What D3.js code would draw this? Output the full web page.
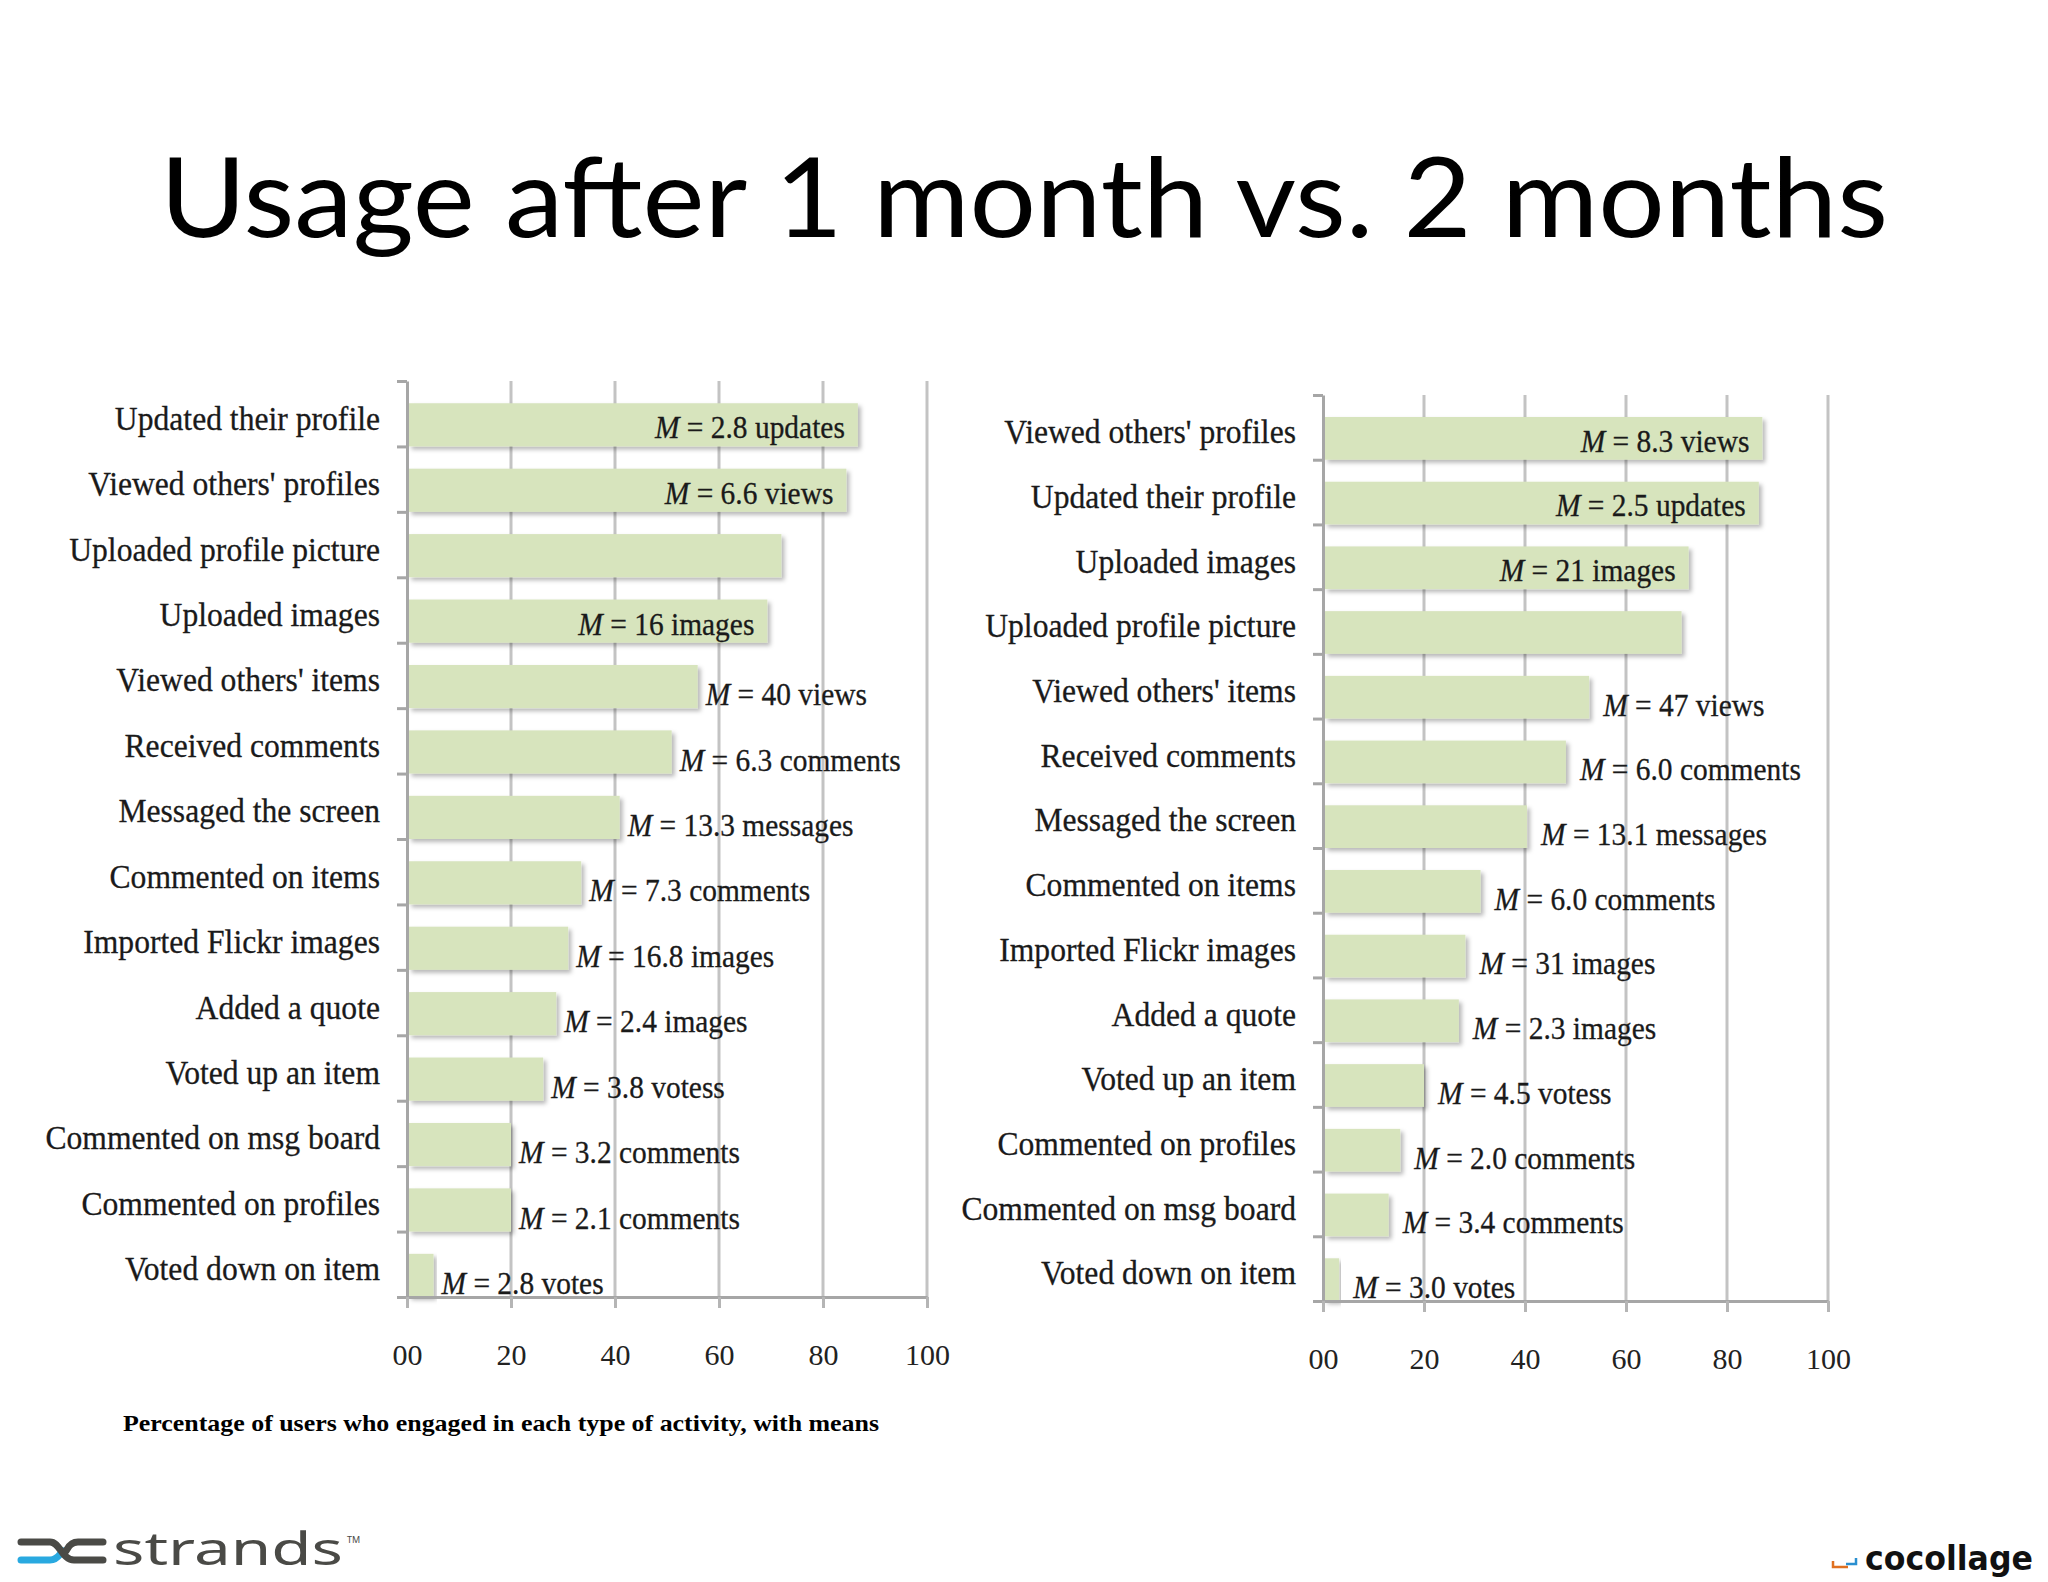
<!DOCTYPE html>
<html><head><meta charset="utf-8">
<script src="https://cdn.jsdelivr.net/npm/d3@7/dist/d3.min.js"></script>
<style>body{margin:0;background:#fff;} svg{display:block}</style>
</head><body>
<svg id="c" width="2048" height="1582"></svg>
<script>
// ---------- data ----------
const title = "Usage after 1 month vs. 2 months";
const caption = "Percentage of users who engaged in each type of activity, with means";
const tickValues = [0, 20, 40, 60, 80, 100];
const tickLabels = ["00", "20", "40", "60", "80", "100"];

const month1Categories = ["Updated their profile", "Viewed others' profiles", "Uploaded profile picture",
  "Uploaded images", "Viewed others' items", "Received comments", "Messaged the screen",
  "Commented on items", "Imported Flickr images", "Added a quote", "Voted up an item",
  "Commented on msg board", "Commented on profiles", "Voted down on item"];
const month1Values = [86.7, 84.5, 72, 69.3, 55.9, 50.9, 40.9, 33.5, 31, 28.7, 26.2, 20, 20, 5.1];
const month1Means = ["2.8 updates", "6.6 views", "", "16 images", "40 views", "6.3 comments",
  "13.3 messages", "7.3 comments", "16.8 images", "2.4 images", "3.8 votess", "3.2 comments",
  "2.1 comments", "2.8 votes"];

const month2Categories = ["Viewed others' profiles", "Updated their profile", "Uploaded images",
  "Uploaded profile picture", "Viewed others' items", "Received comments", "Messaged the screen",
  "Commented on items", "Imported Flickr images", "Added a quote", "Voted up an item",
  "Commented on profiles", "Commented on msg board", "Voted down on item"];
const month2Values = [87, 86.3, 72.4, 71, 52.7, 48.1, 40.4, 31.2, 28.2, 26.9, 20, 15.3, 13, 3.2];
const month2Means = ["8.3 views", "2.5 updates", "21 images", "", "47 views", "6.0 comments",
  "13.1 messages", "6.0 comments", "31 images", "2.3 images", "4.5 votess", "2.0 comments",
  "3.4 comments", "3.0 votes"];

// ---------- drawing ----------
const svg = d3.select("#c");
const defs = svg.append("defs");
const f = defs.append("filter").attr("id", "shadow").attr("x", "-5%").attr("y", "-20%")
  .attr("width", "115%").attr("height", "160%");
f.append("feDropShadow").attr("dx", 3).attr("dy", 3).attr("stdDeviation", 2)
  .attr("flood-color", "#000").attr("flood-opacity", 0.28);

const SERIF = "'Liberation Serif','Times New Roman',serif";

function condensedText(parent, x, y, k, anchor) {
  return parent.append("text")
    .attr("transform", `translate(${x},${y}) scale(${k},1)`)
    .attr("text-anchor", anchor);
}

function panel(cfg, cats, vals, means) {
  const x = d3.scaleLinear().domain([0, 100]).range([cfg.x0, cfg.x1]);
  const y = d3.scaleBand().domain(cats).range([cfg.y0, cfg.y1]).padding(0);
  const bw = y.bandwidth();
  const g = svg.append("g");

  // vertical gridlines
  g.append("g").selectAll("line").data(tickValues.slice(1)).join("line")
    .attr("x1", d => x(d)).attr("x2", d => x(d))
    .attr("y1", cfg.y0).attr("y2", cfg.y1)
    .attr("stroke", "#c3c3c3").attr("stroke-width", 3);

  // bars
  const rows = cats.map((c, i) => ({ c, v: vals[i], m: means[i] }));
  g.append("g").selectAll("rect").data(rows).join("rect")
    .attr("x", x(0) + 1.5)
    .attr("y", d => y(d.c) + bw * 0.34)
    .attr("width", d => x(d.v) - x(0) - 1.5)
    .attr("height", bw * 0.66)
    .attr("fill", "#d7e4bd")
    .attr("filter", "url(#shadow)");

  // left axis (ticks at band boundaries)
  const yb = d3.scaleLinear().domain([0, cats.length]).range([cfg.y0, cfg.y1]);
  const la = g.append("g").attr("transform", `translate(${x(0)},0)`)
    .call(d3.axisLeft(yb).tickValues(d3.range(cats.length + 1))
      .tickFormat("").tickSizeInner(10).tickSizeOuter(0));
  la.select(".domain").attr("stroke", "#a6a6a6").attr("stroke-width", 3);
  la.selectAll(".tick line").attr("stroke", "#a6a6a6").attr("stroke-width", 3);

  // bottom axis
  const ba = g.append("g").attr("transform", `translate(0,${cfg.y1})`)
    .call(d3.axisBottom(x).tickValues(tickValues)
      .tickFormat((d, i) => tickLabels[i]).tickSizeInner(11).tickSizeOuter(0).tickPadding(36));
  ba.select(".domain").attr("stroke", "#a6a6a6").attr("stroke-width", 3);
  ba.selectAll(".tick line").attr("stroke", "#b5b5b5").attr("stroke-width", 3);
  ba.selectAll(".tick text").attr("font-family", SERIF).attr("font-size", 30).attr("fill", "#222");

  // category labels
  rows.forEach(d => {
    condensedText(g, cfg.labelRight, y(d.c) + bw * 0.745, 0.93, "end")
      .attr("font-family", SERIF).attr("font-size", 34).attr("fill", "#1a1a1a")
      .attr("stroke", "#1a1a1a").attr("stroke-width", 0.3)
      .text(d.c);
  });

  // mean labels
  rows.forEach(d => {
    if (!d.m) return;
    const inside = d.v >= 60;
    const t = inside
      ? condensedText(g, x(d.v) - 13, y(d.c) + bw - 8, 0.92, "end")
      : condensedText(g, x(d.v) + cfg.gap, y(d.c) + bw - 3, 0.92, "start");
    t.attr("font-family", SERIF).attr("font-size", 32).attr("fill", "#1a1a1a")
      .attr("stroke", "#1a1a1a").attr("stroke-width", 0.3);
    t.append("tspan").attr("font-style", "italic").text("M");
    t.append("tspan").text(" = " + d.m);
  });
}

panel({ x0: 407, x1: 927, y0: 381, y1: 1297, labelRight: 380, gap: 8 },
  month1Categories, month1Values, month1Means);
panel({ x0: 1323, x1: 1828, y0: 395, y1: 1301, labelRight: 1296, gap: 14 },
  month2Categories, month2Values, month2Means);

// title
svg.append("text").attr("x", 160).attr("y", 237)
  .attr("font-family", "Lato, 'Open Sans', sans-serif").attr("font-size", 110)
  .attr("textLength", 1728).attr("lengthAdjust", "spacingAndGlyphs")
  .attr("fill", "#000").text(title);

// caption
svg.append("text").attr("x", 123).attr("y", 1431)
  .attr("font-family", SERIF).attr("font-weight", "bold").attr("font-size", 24)
  .attr("textLength", 756).attr("lengthAdjust", "spacingAndGlyphs")
  .attr("fill", "#000").text(caption);

// strands logo
const logo = svg.append("g").attr("fill", "none").attr("stroke-width", 7).attr("stroke-linecap", "round");
logo.append("path").attr("d", "M21,1560 H50 C58,1560 60,1553 63,1551").attr("stroke", "#29a9e0");
logo.append("path").attr("d", "M21,1542 H50 C60,1542 62,1560 74,1560 H103").attr("stroke", "#4a4a46");
logo.append("path").attr("d", "M103,1542 H78 C70,1542 68,1548 66,1551").attr("stroke", "#4a4a46");
svg.append("text").attr("x", 113).attr("y", 1565)
  .attr("font-family", "'Noto Sans', sans-serif").attr("font-weight", 400).attr("font-size", 46)
  .attr("textLength", 230).attr("lengthAdjust", "spacingAndGlyphs")
  .attr("fill", "#4a4a46").text("strands");
svg.append("text").attr("x", 347).attr("y", 1543)
  .attr("font-family", "'Noto Sans', sans-serif").attr("font-size", 9)
  .attr("fill", "#4a4a46").text("TM");

// right corner logo
svg.append("text").attr("x", 1865).attr("y", 1570)
  .attr("font-family", "'DejaVu Sans', sans-serif").attr("font-weight", "bold").attr("font-size", 34)
  .attr("textLength", 168).attr("lengthAdjust", "spacingAndGlyphs")
  .attr("fill", "#111").text("cocollage");
svg.append("path").attr("d", "M1833,1561 V1567 H1848").attr("fill", "none")
  .attr("stroke", "#e07020").attr("stroke-width", 2.5);
svg.append("path").attr("d", "M1846,1564 H1856 V1558").attr("fill", "none")
  .attr("stroke", "#2a8fd0").attr("stroke-width", 2.5);
</script>
</body></html>
